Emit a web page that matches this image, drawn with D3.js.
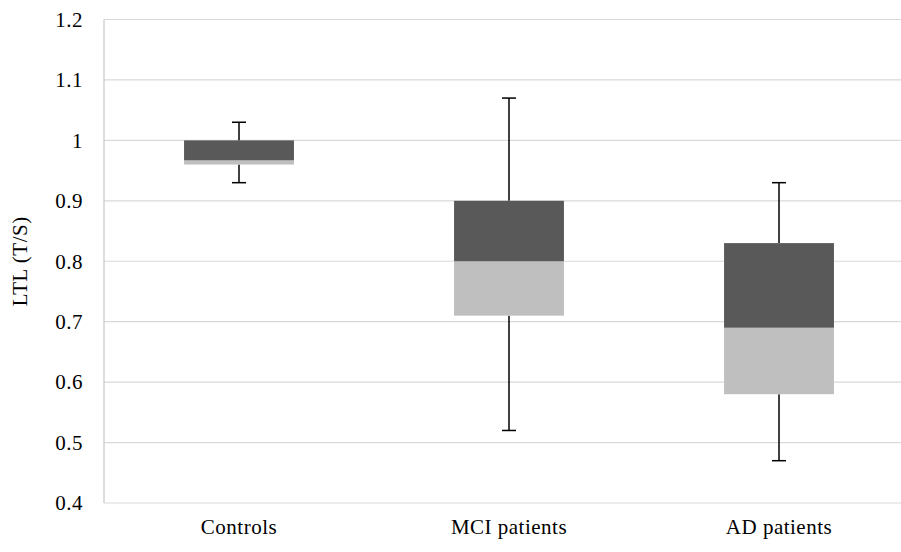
<!DOCTYPE html>
<meta charset="utf-8">
<style>
  body { margin: 0; background: #fff; }
</style>
<body>
<div id="chart"></div>
<script src="https://d3js.org/d3.v7.min.js"></script>
<script>
const groups = ["Controls", "MCI patients", "AD patients"];
const whiskerLow = [0.93, 0.52, 0.47];
const q1 = [0.96, 0.71, 0.58];
const median = [0.967, 0.80, 0.69];
const q3 = [1.00, 0.90, 0.83];
const whiskerHigh = [1.03, 1.07, 0.93];
const yTicks = [0.4, 0.5, 0.6, 0.7, 0.8, 0.9, 1, 1.1, 1.2];

const width = 901, height = 552;
const plotLeft = 104, plotRight = 914, plotTop = 19.5, plotBottom = 503;
const serif = "'Liberation Serif', 'Times New Roman', Tinos, 'DejaVu Serif', serif";

const svg = d3.select("#chart").append("svg")
  .attr("width", width).attr("height", height)
  .attr("font-family", serif)
  .style("font-family", serif);

const x = d3.scaleBand().domain(groups).range([plotLeft, plotRight]).paddingInner(0.593).paddingOuter(0.2965);
const y = d3.scaleLinear().domain([0.4, 1.2]).range([plotBottom, plotTop]);

// gridlines
svg.append("g")
  .selectAll("line")
  .data(yTicks)
  .join("line")
  .attr("x1", plotLeft).attr("x2", width)
  .attr("y1", d => y(d)).attr("y2", d => y(d))
  .attr("stroke", "#d9d9d9").attr("stroke-width", 1.2);

// left axis line
svg.append("line")
  .attr("x1", plotLeft).attr("x2", plotLeft).attr("y1", plotTop).attr("y2", plotBottom)
  .attr("stroke", "#c8c8c8").attr("stroke-width", 1.2);

// y tick labels
svg.append("g")
  .selectAll("text")
  .data(yTicks)
  .join("text")
  .attr("x", 83)
  .attr("y", d => y(d))
  .attr("dy", "0.35em")
  .attr("text-anchor", "end")
  .attr("fill", "#000")
  .style("font-size", "21px")
  .style("letter-spacing", "0.5px")
  .text(d => d3.format("")(d));

// y axis title
svg.append("text")
  .attr("transform", `translate(27,${(plotTop + plotBottom) / 2}) rotate(-90)`)
  .attr("text-anchor", "middle")
  .attr("fill", "#000")
  .style("font-size", "21px")
  .style("letter-spacing", "0.5px")
  .text("LTL (T/S)");

// x labels
svg.append("g")
  .selectAll("text")
  .data(groups)
  .join("text")
  .attr("x", d => x(d) + x.bandwidth() / 2)
  .attr("y", 534)
  .attr("text-anchor", "middle")
  .attr("fill", "#000")
  .style("font-size", "21px")
  .style("letter-spacing", "0.5px")
  .text(d => d);

const boxes = svg.append("g").selectAll("g")
  .data(groups.map((g, i) => ({ g, i })))
  .join("g");

const cx = d => x(d.g) + x.bandwidth() / 2;

// whiskers
boxes.append("line")
  .attr("x1", cx).attr("x2", cx)
  .attr("y1", d => y(whiskerHigh[d.i])).attr("y2", d => y(q3[d.i]))
  .attr("stroke", "#000").attr("stroke-width", 1.5);
boxes.append("line")
  .attr("x1", cx).attr("x2", cx)
  .attr("y1", d => y(whiskerLow[d.i])).attr("y2", d => y(q1[d.i]))
  .attr("stroke", "#000").attr("stroke-width", 1.5);
[whiskerHigh, whiskerLow].forEach(arr => {
  boxes.append("line")
    .attr("x1", d => cx(d) - 7).attr("x2", d => cx(d) + 7)
    .attr("y1", d => y(arr[d.i])).attr("y2", d => y(arr[d.i]))
    .attr("stroke", "#000").attr("stroke-width", 1.5);
});

// lower box (q1 to median)
boxes.append("rect")
  .attr("x", d => x(d.g)).attr("width", x.bandwidth())
  .attr("y", d => y(median[d.i])).attr("height", d => y(q1[d.i]) - y(median[d.i]))
  .attr("fill", "#bfbfbf");
// upper box (median to q3)
boxes.append("rect")
  .attr("x", d => x(d.g)).attr("width", x.bandwidth())
  .attr("y", d => y(q3[d.i])).attr("height", d => y(median[d.i]) - y(q3[d.i]))
  .attr("fill", "#595959");
</script>
</body>
